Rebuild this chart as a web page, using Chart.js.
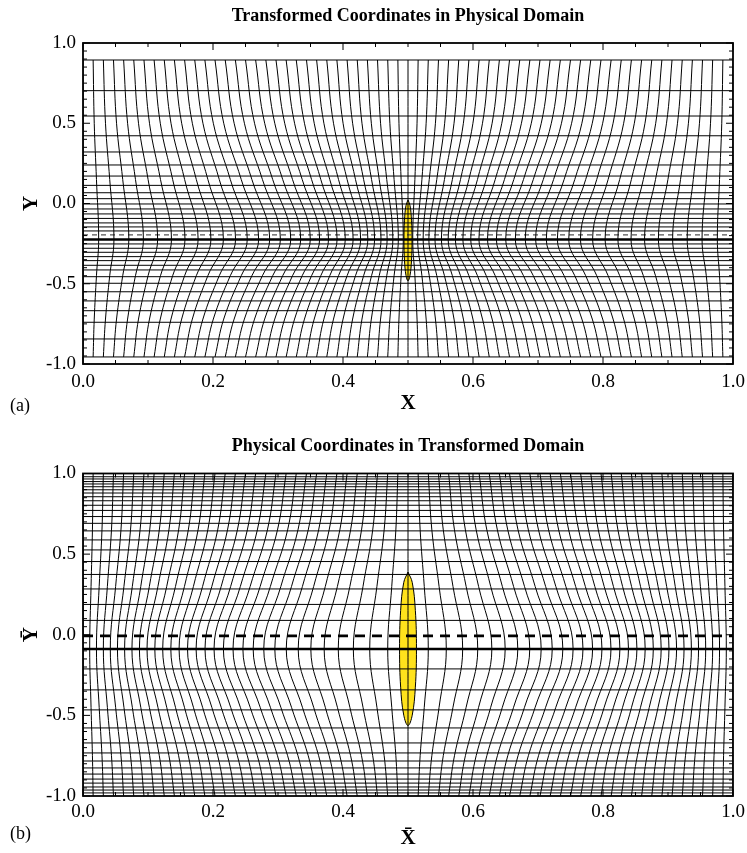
<!DOCTYPE html>
<html>
<head>
<meta charset="utf-8">
<script src="https://cdn.jsdelivr.net/npm/chart.js@4.4.1/dist/chart.umd.min.js"></script>
<style>
  html, body { margin: 0; padding: 0; background: #fff; }
  .panel { position: relative; width: 747px; }
  #wrapA { height: 425px; }
  #wrapB { height: 428px; }
  .tag { position: absolute; left: 10px; font: 18px "Liberation Serif", serif; color: #000; }
</style>
</head>
<body>
<div class="panel" id="wrapA"><canvas id="chartA"></canvas><div class="tag" style="top:395px">(a)</div></div>
<div class="panel" id="wrapB"><canvas id="chartB"></canvas><div class="tag" style="top:398px">(b)</div></div>
<script>
// mesh columns, left half only (xi = 0 .. 0.5); the right half is the mirror image about x = 0.5
// even spacing, as seen along the top and bottom rows
const baseCols = [0, 0.0156, 0.0313, 0.0469, 0.0625, 0.0781, 0.0938, 0.1094, 0.125, 0.1406, 0.1563, 0.1719, 0.1875, 0.2031, 0.2188, 0.2344, 0.25, 0.2656, 0.2813, 0.2969, 0.3125, 0.3281, 0.3438, 0.3594, 0.375, 0.3906, 0.4063, 0.4219, 0.4375, 0.4531, 0.4688, 0.4844, 0.5];

// (a) transformed coordinates in the physical domain
const hLinesA = [0.894, 0.703, 0.545, 0.422, 0.321, 0.240, 0.171, 0.113, 0.067, 0.030, -0.003, -0.034, -0.065, -0.093, -0.121, -0.146, -0.171, -0.252, -0.279, -0.304, -0.331, -0.356, -0.385, -0.414, -0.456, -0.497, -0.550, -0.607, -0.668, -0.740, -0.844, -0.956];
const thickA = -0.224;
const dashA = -0.196;
const colsA20 = [0, 0.0173, 0.0346, 0.0516, 0.0686, 0.0854, 0.1023, 0.1189, 0.1354, 0.1518, 0.1682, 0.1845, 0.2005, 0.2165, 0.2325, 0.2483, 0.2639, 0.2795, 0.2950, 0.3103, 0.3255, 0.3407, 0.3557, 0.3706, 0.3854, 0.4001, 0.4148, 0.4292, 0.4436, 0.4578, 0.4721, 0.4861, 0.5];
const colsA60 = [0, 0.0207, 0.0411, 0.0611, 0.0807, 0.1001, 0.1192, 0.1379, 0.1563, 0.1743, 0.1921, 0.2096, 0.2266, 0.2434, 0.2598, 0.2760, 0.2918, 0.3072, 0.3223, 0.3372, 0.3516, 0.3658, 0.3796, 0.3931, 0.4063, 0.4192, 0.4317, 0.4439, 0.4557, 0.4673, 0.4786, 0.4894, 0.5];
const colsAMid = [0, 0.0241, 0.0476, 0.0705, 0.0929, 0.1148, 0.1361, 0.1569, 0.1771, 0.1968, 0.2160, 0.2347, 0.2527, 0.2702, 0.2872, 0.3037, 0.3196, 0.3349, 0.3497, 0.3640, 0.3777, 0.3909, 0.4035, 0.4156, 0.4271, 0.4382, 0.4486, 0.4585, 0.4679, 0.4767, 0.4851, 0.4927, 0.5];
const levelsA = [0.894, 0.5, 0.15, -0.224, -0.45, -0.72, -0.956];
const bodyAx = [0.5, 0.5031, 0.5054, 0.5062, 0.5054, 0.5031, 0.5, 0.4969, 0.4946, 0.4938, 0.4946, 0.4969, 0.5];
const bodyAy = [0.022, -0.012, -0.104, -0.23, -0.356, -0.448, -0.482, -0.448, -0.356, -0.23, -0.104, -0.012, 0.022];

// (b) physical coordinates in the transformed domain
const hLinesB = [0.980, 0.966, 0.950, 0.935, 0.918, 0.899, 0.879, 0.856, 0.831, 0.803, 0.771, 0.733, 0.691, 0.644, 0.588, 0.526, 0.454, 0.374, 0.284, 0.188, 0.089, -0.212, -0.342, -0.466, -0.578, -0.671, -0.733, -0.783, -0.826, -0.864, -0.895, -0.920, -0.944, -0.963, -0.981];
const thickB = -0.088;
const dashB = -0.007;
const colsB20 = [0, 0.0145, 0.0292, 0.0438, 0.0584, 0.0731, 0.0878, 0.1026, 0.1174, 0.1322, 0.1471, 0.1620, 0.1770, 0.1920, 0.2072, 0.2223, 0.2375, 0.2528, 0.2682, 0.2837, 0.2992, 0.3148, 0.3307, 0.3465, 0.3625, 0.3787, 0.3951, 0.4117, 0.4285, 0.4457, 0.4633, 0.4813, 0.5];
const colsB60 = [0, 0.0124, 0.0249, 0.0375, 0.0502, 0.0630, 0.0759, 0.0889, 0.1021, 0.1153, 0.1288, 0.1423, 0.1561, 0.1699, 0.1840, 0.1982, 0.2126, 0.2272, 0.2421, 0.2572, 0.2726, 0.2883, 0.3044, 0.3208, 0.3376, 0.3549, 0.3728, 0.3914, 0.4106, 0.4308, 0.4522, 0.4750, 0.5];
const colsBMid = [0, 0.0103, 0.0207, 0.0313, 0.0420, 0.0530, 0.0640, 0.0753, 0.0868, 0.0985, 0.1105, 0.1226, 0.1351, 0.1478, 0.1608, 0.1740, 0.1877, 0.2016, 0.2160, 0.2308, 0.2460, 0.2618, 0.2781, 0.2951, 0.3127, 0.3311, 0.3505, 0.3710, 0.3927, 0.4159, 0.4411, 0.4688, 0.5];
const levelsB = [1.0, 0.65, 0.3, -0.088, -0.45, -0.75, -1.0];
const bodyBx = [0.5, 0.5065, 0.5113, 0.513, 0.5113, 0.5065, 0.5, 0.4935, 0.4887, 0.487, 0.4887, 0.4935, 0.5];
const bodyBy = [0.389, 0.325, 0.151, -0.087, -0.325, -0.499, -0.563, -0.499, -0.325, -0.087, 0.151, 0.325, 0.389];

Chart.defaults.font.family = '"Liberation Serif", "Times New Roman", serif';
Chart.defaults.color = '#000';

const isMult = (v, m) => Math.abs(v / m - Math.round(v / m)) < 1e-6;

function lineSet(pts, width, extra) {
  return Object.assign({
    data: pts, showLine: true, pointRadius: 0, borderColor: '#000',
    borderWidth: width, tension: 0, fill: false, order: 0
  }, extra || {});
}

function buildMesh(m) {
  const sets = [];
  // the body, drawn first so the mesh sits on top of it
  sets.push(lineSet(m.bodyX.map((x, i) => ({ x, y: m.bodyY[i] })), 1,
    { fill: 'shape', backgroundColor: '#ffe21c', tension: 0.4, order: 5 }));
  m.hLines.forEach(y => sets.push(lineSet([{ x: 0, y }, { x: 1, y }], 1)));
  for (let k = 0; k <= 64; k++) {
    const pts = m.levels.map((y, j) => {
      const row = m.rows[j];
      return { x: k <= 32 ? row[k] : 1 - row[64 - k], y };
    });
    sets.push(lineSet(pts, 1, { tension: 0.4 }));
  }
  sets.push(lineSet([{ x: 0, y: m.dash }, { x: 1, y: m.dash }], m.dashWidth,
    { borderColor: m.dashColor, borderDash: m.dashPattern }));
  sets.push(lineSet([{ x: 0, y: m.thick }, { x: 1, y: m.thick }], 2.6));
  return sets;
}

// frame and inward tick marks on all four sides
const framePlugin = {
  id: 'frame',
  afterDraw(chart) {
    const { ctx, chartArea: a, scales } = chart;
    ctx.save();
    ctx.strokeStyle = '#000';
    ctx.lineWidth = 1;
    ctx.beginPath();
    scales.x.ticks.forEach(t => {
      const px = scales.x.getPixelForValue(t.value);
      const len = isMult(t.value, 0.2) ? 7 : 4;
      ctx.moveTo(px, a.bottom); ctx.lineTo(px, a.bottom - len);
      ctx.moveTo(px, a.top); ctx.lineTo(px, a.top + len);
    });
    scales.y.ticks.forEach(t => {
      const py = scales.y.getPixelForValue(t.value);
      const len = isMult(t.value, 0.5) ? 7 : 4;
      ctx.moveTo(a.left, py); ctx.lineTo(a.left + len, py);
      ctx.moveTo(a.right, py); ctx.lineTo(a.right - len, py);
    });
    ctx.stroke();
    ctx.lineWidth = 1.8;
    ctx.strokeRect(a.left, a.top, a.right - a.left, a.bottom - a.top);
    ctx.restore();
  }
};

function makeChart(id, title, m, lay) {
  const fmt = v => (Math.abs(v) < 1e-9 ? 0 : v).toFixed(1);
  return new Chart(document.getElementById(id), {
    type: 'scatter',
    data: { datasets: buildMesh(m) },
    plugins: [framePlugin],
    options: {
      responsive: true,
      maintainAspectRatio: false,
      animation: false,
      layout: { padding: { top: 0, right: 14, bottom: 0, left: 0 } },
      plugins: {
        legend: { display: false },
        tooltip: { enabled: false },
        title: {
          display: true, text: title, fullSize: false, color: '#000',
          font: { size: 18, weight: 'bold' },
          padding: { top: lay.titleTop, bottom: lay.titleBottom }
        }
      },
      scales: {
        x: {
          type: 'linear', min: 0, max: 1,
          afterFit: s => { s.height = lay.xAxisH; s.paddingLeft = 0; s.paddingRight = 0; },
          grid: { display: false, drawTicks: false },
          border: { display: false },
          ticks: {
            stepSize: 0.05, maxTicksLimit: 100, autoSkip: false, maxRotation: 0, minRotation: 0,
            padding: lay.xTickPad, font: { size: 19 },
            callback: v => isMult(v, 0.2) ? fmt(v) : ''
          },
          title: {
            display: true, text: m.xTitle, color: '#000',
            font: { size: 21, weight: 'bold' }, padding: { top: 0, bottom: lay.xTitlePad }
          }
        },
        y: {
          type: 'linear', min: -1, max: 1,
          afterFit: s => { s.width = 83; s.paddingTop = 0; s.paddingBottom = 0; },
          grid: { display: false, drawTicks: false },
          border: { display: false },
          ticks: {
            stepSize: 0.05, maxTicksLimit: 100, autoSkip: false,
            padding: 7, font: { size: 19 },
            callback: v => isMult(v, 0.5) ? fmt(v) : ''
          },
          title: {
            display: true, text: m.yTitle, color: '#000',
            font: { size: 21, weight: 'bold' }, padding: { top: 19, bottom: 0 }
          }
        }
      }
    }
  });
}

makeChart('chartA', 'Transformed Coordinates in Physical Domain', {
  hLines: hLinesA, thick: thickA, dash: dashA,
  dashColor: '#555', dashWidth: 1.2, dashPattern: [5, 4],
  levels: levelsA,
  rows: [baseCols, colsA20, colsA60, colsAMid, colsA60, colsA20, baseCols],
  bodyX: bodyAx, bodyY: bodyAy, xTitle: 'X', yTitle: 'Y'
}, { titleTop: 6, titleBottom: 15.4, xAxisH: 61, xTickPad: 7, xTitlePad: 9 });

makeChart('chartB', 'Physical Coordinates in Transformed Domain', {
  hLines: hLinesB, thick: thickB, dash: dashB,
  dashColor: '#000', dashWidth: 2.6, dashPattern: [10, 7],
  levels: levelsB,
  rows: [baseCols, colsB20, colsB60, colsBMid, colsB60, colsB20, baseCols],
  bodyX: bodyBx, bodyY: bodyBy, xTitle: 'X\u0304', yTitle: 'Y\u0304'
}, { titleTop: 11, titleBottom: 15.9, xAxisH: 57, xTickPad: 5, xTitlePad: 2 });
</script>
</body>
</html>
